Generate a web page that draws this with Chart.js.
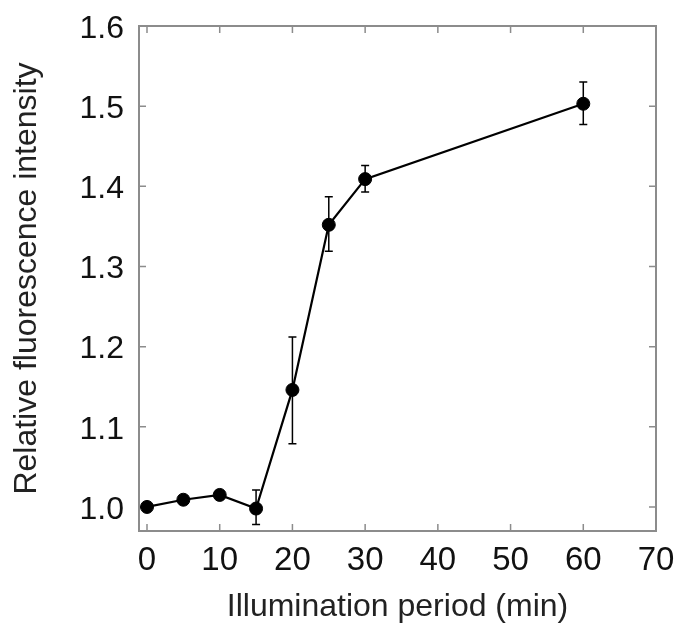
<!DOCTYPE html>
<html>
<head>
<meta charset="utf-8">
<script src="https://cdn.jsdelivr.net/npm/chart.js@4/dist/chart.umd.min.js"></script>
<style>
  html, body { margin: 0; padding: 0; background: #fff; }
  #wrap { width: 676px; height: 631px; }
</style>
</head>
<body>
<div id="wrap"><canvas id="c" width="676" height="631"></canvas></div>
<script>
// ---- data ----
const periods = [0, 5, 10, 15, 20, 25, 30, 60];
const intensity = [1.000, 1.009, 1.015, 0.998, 1.146, 1.352, 1.409, 1.503];
const errLow  = [0.995, 1.004, 1.010, 0.978, 1.079, 1.319, 1.393, 1.477];
const errHigh = [1.005, 1.014, 1.020, 1.021, 1.212, 1.387, 1.426, 1.530];
const xTicks = [0, 10, 20, 30, 40, 50, 60, 70];
const yTicks = [1.0, 1.1, 1.2, 1.3, 1.4, 1.5, 1.6];
const xTitle = 'Illumination period (min)';
const yTitle = 'Relative fluorescence intensity';

const FONT = '"Liberation Sans", Arial, Helvetica, sans-serif';
const FRAME = '#8c8c8c';

const errorBars = {
  id: 'errorBars',
  beforeDatasetsDraw(chart) {
    const ctx = chart.ctx, xs = chart.scales.x, ys = chart.scales.y;
    ctx.save();
    ctx.strokeStyle = '#000';
    ctx.lineWidth = 1.5;
    periods.forEach((p, i) => {
      const x = xs.getPixelForValue(p);
      const y1 = ys.getPixelForValue(errLow[i]);
      const y2 = ys.getPixelForValue(errHigh[i]);
      ctx.beginPath();
      ctx.moveTo(x, y1); ctx.lineTo(x, y2);
      ctx.moveTo(x - 4, y1); ctx.lineTo(x + 4, y1);
      ctx.moveTo(x - 4, y2); ctx.lineTo(x + 4, y2);
      ctx.stroke();
    });
    ctx.restore();
  }
};

const frame = {
  id: 'frame',
  beforeDatasetsDraw(chart) {
    const ctx = chart.ctx, a = chart.chartArea;
    const xs = chart.scales.x, ys = chart.scales.y;
    ctx.save();
    ctx.strokeStyle = FRAME;
    ctx.lineWidth = 1.5;
    const L = 7;
    ctx.beginPath();
    xTicks.forEach(v => {
      const x = xs.getPixelForValue(v);
      ctx.moveTo(x, a.bottom); ctx.lineTo(x, a.bottom - L);
      ctx.moveTo(x, a.top); ctx.lineTo(x, a.top + L);
    });
    yTicks.forEach(v => {
      const y = ys.getPixelForValue(v);
      ctx.moveTo(a.left, y); ctx.lineTo(a.left + L, y);
      ctx.moveTo(a.right, y); ctx.lineTo(a.right - L, y);
    });
    ctx.stroke();
    ctx.lineWidth = 2;
    ctx.strokeRect(a.left, a.top, a.right - a.left, a.bottom - a.top);
    ctx.restore();
  }
};

function noPad(s) {
  s.paddingTop = 0; s.paddingBottom = 0; s.paddingLeft = 0; s.paddingRight = 0;
}

new Chart(document.getElementById('c'), {
  type: 'scatter',
  data: {
    datasets: [{
      data: periods.map((p, i) => ({ x: p, y: intensity[i] })),
      showLine: true,
      borderColor: '#000',
      borderWidth: 2.2,
      backgroundColor: '#000',
      pointRadius: 6.5,
      pointHoverRadius: 6.5,
      pointBorderWidth: 1,
      pointBackgroundColor: '#000',
      pointBorderColor: '#000',
      tension: 0
    }]
  },
  options: {
    responsive: false,
    animation: false,
    layout: { padding: { left: 0, top: 26, right: 20, bottom: 0 } },
    plugins: { legend: { display: false }, tooltip: { enabled: false } },
    scales: {
      x: {
        type: 'linear',
        min: -1.1, max: 70,
        afterBuildTicks: s => { s.ticks = xTicks.map(v => ({ value: v })); },
        afterFit: s => { s.height = 100; noPad(s); },
        grid: { display: false, drawTicks: false },
        border: { display: false },
        ticks: {
          color: '#111',
          padding: 10,
          maxRotation: 0,
          autoSkip: false,
          font: { family: FONT, size: 33 },
          callback: v => String(v)
        },
        title: {
          display: true, text: xTitle, color: '#222',
          font: { family: FONT, size: 32 },
          padding: { top: 0, bottom: 5 }
        }
      },
      y: {
        type: 'linear',
        min: 0.97, max: 1.6,
        afterBuildTicks: s => { s.ticks = yTicks.map(v => ({ value: v })); },
        afterFit: s => { s.width = 139; noPad(s); },
        grid: { display: false, drawTicks: false },
        border: { display: false },
        ticks: {
          color: '#111',
          padding: 15,
          autoSkip: false,
          labelOffset: 3,
          font: { family: FONT, size: 32 },
          callback: v => Number(v).toFixed(1)
        },
        title: {
          display: true, text: yTitle, color: '#222',
          font: { family: FONT, size: 32 },
          padding: { top: 8, bottom: 0 }
        }
      }
    }
  },
  plugins: [frame, errorBars]
});
</script>
</body>
</html>
